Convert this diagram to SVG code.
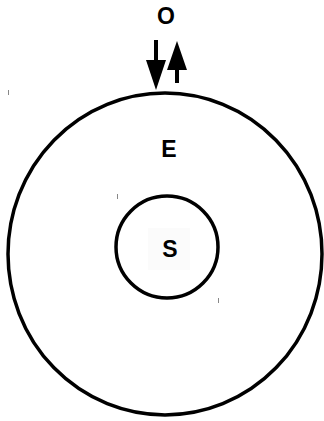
<svg xmlns="http://www.w3.org/2000/svg" width="324" height="421" viewBox="0 0 324 421">
<style>
.lbl{font-family:"Liberation Sans",Arial,sans-serif;font-weight:bold;font-size:23px;fill:#000;text-anchor:middle}
.ring{fill:none;stroke:#000;stroke-width:3.5}
.tick{stroke:#888;stroke-width:1}
</style>
<rect width="324" height="421" fill="#fff"/>
<g id="E">
<ellipse class="ring" cx="165" cy="254" rx="157" ry="161"/>
<text class="lbl" x="169" y="157">E</text>
</g>
<g id="S">
<circle class="ring" cx="167" cy="247" r="51"/>
<rect x="148" y="228" width="42" height="42" fill="#fbfbfb"/>
<text class="lbl" x="170" y="257">S</text>
</g>
<g id="O">
<text class="lbl" x="166" y="24">O</text>
</g>
<g id="connectors">
<line x1="156" y1="40" x2="156" y2="62" stroke="#000" stroke-width="4"/>
<polygon points="146,60 166,60 156,90"/>
<line x1="177" y1="66" x2="177" y2="83" stroke="#000" stroke-width="4"/>
<polygon points="167,70 187,70 177,41"/>
</g>
<line class="tick" x1="8.5" y1="90" x2="8.5" y2="95"/>
<line class="tick" x1="117.5" y1="194" x2="117.5" y2="199"/>
<line class="tick" x1="218.5" y1="298" x2="218.5" y2="303"/>
</svg>
